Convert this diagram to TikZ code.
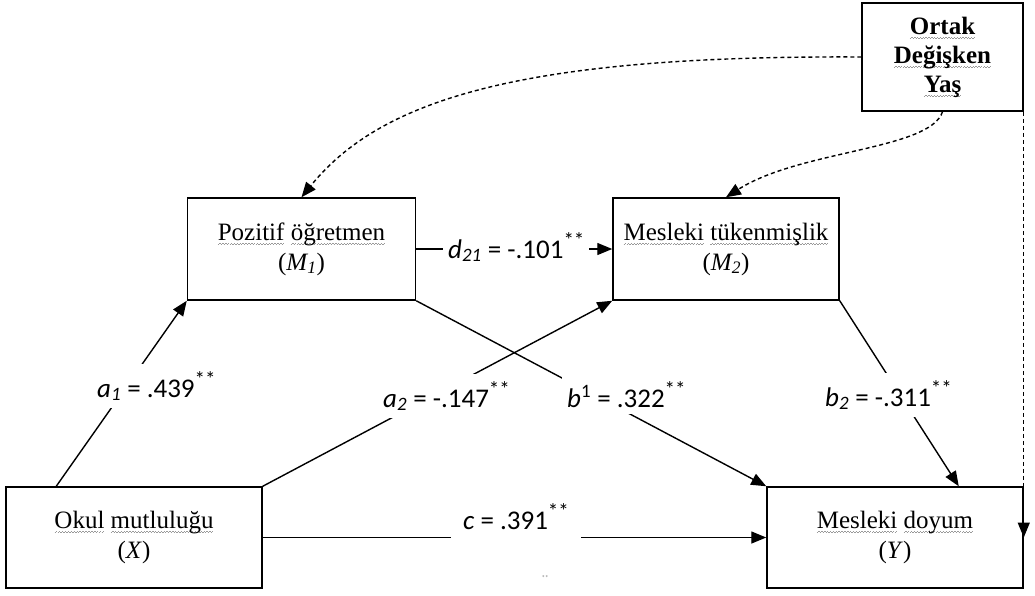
\documentclass[tikz,border=0pt]{standalone}
\usepackage{fontspec}
\setmainfont{Liberation Serif}
\newfontfamily\lab{Carlito}
\usetikzlibrary{arrows.meta,calc}
\newsavebox\wvbox
\newcommand\wv[1]{\sbox\wvbox{#1}\leavevmode\rlap{\hbox to\wd\wvbox{\color{gray!80}\xleaders\hbox{\rule[-4.6pt]{1.4pt}{0.9pt}\rule[-3.6pt]{1.4pt}{0.9pt}}\hfil}}\usebox\wvbox}
\newcommand\sig{\raisebox{11pt}{\fontsize{21}{21}\selectfont **}}
\tikzset{
  box/.style={draw, line width=1.5pt, inner sep=0pt, align=center, font=\fontsize{25}{30}\selectfont},
  arr/.style={-{Triangle[length=15pt,width=12pt]}, line width=1.4pt},
  dsh/.style={arr, dash pattern=on 4pt off 3pt},
  lbl/.style={fill=white, anchor=base west, inner xsep=5pt, inner ysep=7pt, font=\lab\fontsize{27}{30}\selectfont}
}
\begin{document}
\begin{tikzpicture}[x=1pt,y=-1pt]
\fill[white] (0,0) rectangle (1035,595);
\useasboundingbox (0,0) rectangle (1035,595);
% boxes
\node[box, minimum width=161pt, minimum height=108pt, font=\bfseries\fontsize{25}{29}\selectfont] (O) at (942.5,57) {\wv{Ortak}\\\wv{Değişken}\\\wv{Yaş}};
\node[box, minimum width=228pt, minimum height=102pt] (M1) at (301.5,249) {\wv{Pozitif} \wv{öğretmen}\\(\textit{M\textsubscript{1}})};
\node[box, minimum width=226pt, minimum height=102pt] (M2) at (726,249) {\wv{Mesleki} \wv{tükenmişlik}\\(\textit{M\textsubscript{2}})};
\node[box, minimum width=256pt, minimum height=101pt] (X) at (134,537.5) {\wv{Okul} \wv{mutluluğu}\\(\textit{X})};
\node[box, minimum width=256pt, minimum height=101pt] (Y) at (895,537.5) {\wv{Mesleki} \wv{doyum}\\(\textit{Y})};
% solid paths
\draw[arr] ($(X.north west)+(51,0)$) -- (M1.south west);
\draw[arr] (X.north east) -- (M2.south west);
\draw[arr] (M1.south east) -- (Y.north west);
\draw[arr] (M2.south east) -- ($(Y.north east)+(-65,0)$);
\draw[arr] (M1.east) -- (M2.west);
\draw[arr] (X.east) -- (Y.west);
% dashed covariate paths
\draw[dsh] (O.west) .. controls (520,55) and (380,100) .. (M1.north);
\draw[dsh] (O.south) .. controls (930,150) and (800,150) .. (M2.north);
\draw[dsh] (O.south east) -- (Y.east);
% labels
\node[lbl] (la1) at (92,397) {\textit{a}\textsubscript{\textit{1}} = .439\sig};
\node[lbl] (la2) at (378,407) {\textit{a}\textsubscript{\textit{2}} = -.147\sig};
\node[lbl] (lb1) at (562,407) {\textit{b}\textsuperscript{1} = .322\sig};
\node[lbl] (lb2) at (820,406) {\textit{b}\textsubscript{\textit{2}} = -.311\sig};
\node[lbl] (ld) at (443,258) {\textit{d}\textsubscript{\textit{21}} = -.101\sig};
\node[lbl, inner xsep=12pt, inner ysep=9pt] (lc) at (451,529) {\textit{c} = .391\sig};
\node[font=\lab\fontsize{7}{7}\selectfont, text=gray, inner sep=0pt] (art) at (545,578) {**};
\end{tikzpicture}
\end{document}
